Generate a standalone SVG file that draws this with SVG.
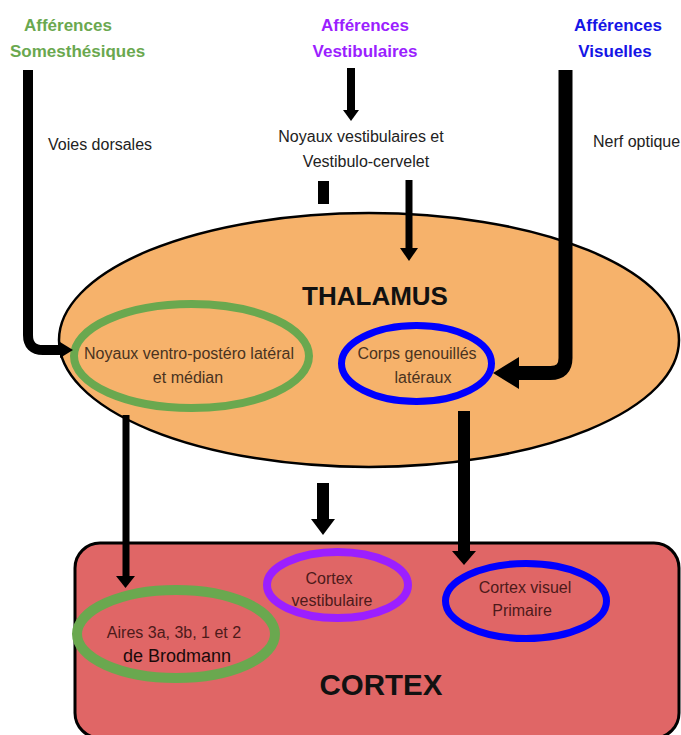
<svg xmlns="http://www.w3.org/2000/svg" width="681" height="735" viewBox="0 0 681 735">
<style>
text{font-family:"Liberation Sans",Arial,sans-serif}
.h{font-size:17px;font-weight:bold}
.t{font-size:16px;fill:#222}
.in{font-size:16px;fill:#4a331f;text-anchor:middle}
.inc{font-size:16px;fill:#4d1a1a;text-anchor:middle}
.big{font-weight:bold;fill:#111;text-anchor:middle}
.ring{fill:none}
.ln{fill:none;stroke:#000}
</style>
<rect width="681" height="735" fill="#fff"/>

<g id="aff-somesthesiques">
<text class="h" x="24" y="31" fill="#6aa84f">Afférences</text>
<text class="h" x="10" y="57" fill="#6aa84f">Somesthésiques</text>
</g>
<g id="aff-vestibulaires">
<text class="h" x="365" y="31" fill="#9b1fff" text-anchor="middle">Afférences</text>
<text class="h" x="365" y="57" fill="#9b1fff" text-anchor="middle">Vestibulaires</text>
</g>
<g id="aff-visuelles">
<text class="h" x="618" y="31" fill="#1515e6" text-anchor="middle">Afférences</text>
<text class="h" x="615" y="57" fill="#1515e6" text-anchor="middle">Visuelles</text>
</g>
<g id="voies-dorsales"><text class="t" x="48" y="150">Voies dorsales</text></g>
<g id="noyaux-vestibulaires">
<text class="t" x="361" y="142" text-anchor="middle">Noyaux vestibulaires et</text>
<text class="t" x="366" y="167" text-anchor="middle">Vestibulo-cervelet</text>
</g>
<g id="nerf-optique"><text class="t" x="593" y="147">Nerf optique</text></g>

<g id="thalamus">
<ellipse cx="369" cy="340" rx="310" ry="127" fill="#f6b26b" stroke="#000" stroke-width="2.5"/>
<text class="big" x="375" y="305" font-size="26">THALAMUS</text>
</g>
<g id="noyaux-vpl">
<ellipse class="ring" cx="191.5" cy="356" rx="117.5" ry="52" stroke="#6aa84f" stroke-width="8"/>
<text class="in" x="189" y="359">Noyaux ventro-postéro latéral</text>
<text class="in" x="188" y="383">et médian</text>
</g>
<g id="corps-genouilles">
<ellipse class="ring" cx="416.5" cy="363.5" rx="75" ry="38" stroke="#0000ff" stroke-width="7"/>
<text class="in" x="417" y="359">Corps genouillés</text>
<text class="in" x="423" y="383">latéraux</text>
</g>

<g id="cortex">
<rect x="75" y="543" width="604" height="195" rx="25" fill="#e06666" stroke="#000" stroke-width="3"/>
<text class="big" x="381" y="695" font-size="29.5">CORTEX</text>
</g>
<g id="aires-brodmann">
<ellipse class="ring" cx="176" cy="634" rx="99" ry="44" stroke="#6aa84f" stroke-width="10"/>
<text class="inc" x="174" y="638">Aires 3a, 3b, 1 et 2</text>
<text x="177" y="662" font-size="18" fill="#1a0a0a" text-anchor="middle">de Brodmann</text>
</g>
<g id="cortex-vestibulaire">
<ellipse class="ring" cx="337.5" cy="585" rx="70.5" ry="33" stroke="#9b1fff" stroke-width="8"/>
<text class="inc" x="329" y="584">Cortex</text>
<text class="inc" x="332" y="606">vestibulaire</text>
</g>
<g id="cortex-visuel">
<ellipse class="ring" cx="526" cy="601" rx="80.5" ry="37.5" stroke="#0000ff" stroke-width="7"/>
<text class="inc" x="525" y="593">Cortex visuel</text>
<text class="inc" x="522" y="616">Primaire</text>
</g>

<g id="connectors">
<path class="ln" d="M28 70 V335 Q28 350 43 350 H62" stroke-width="10"/>
<polygon points="60,342 73,350 60,358"/>
<path class="ln" d="M565.5 70 V358 Q565.5 373 550.5 373 H516" stroke-width="14"/>
<polygon points="519,357 493,373 519,389"/>
<path class="ln" d="M351 68 V111" stroke-width="8"/>
<polygon points="343,110 359,110 351,121"/>
<rect x="318" y="181" width="11" height="23"/>
<path class="ln" d="M409 180 V250" stroke-width="7"/>
<polygon points="400,248 418,248 409,261"/>
<path class="ln" d="M126 415 V578" stroke-width="7"/>
<polygon points="116,576 135,576 125.5,588"/>
<path class="ln" d="M323 483 V522" stroke-width="12"/>
<polygon points="311,519 335,519 323,535"/>
<path class="ln" d="M464 411 V553" stroke-width="12"/>
<polygon points="452,551 476,551 464,565"/>
</g>
</svg>
